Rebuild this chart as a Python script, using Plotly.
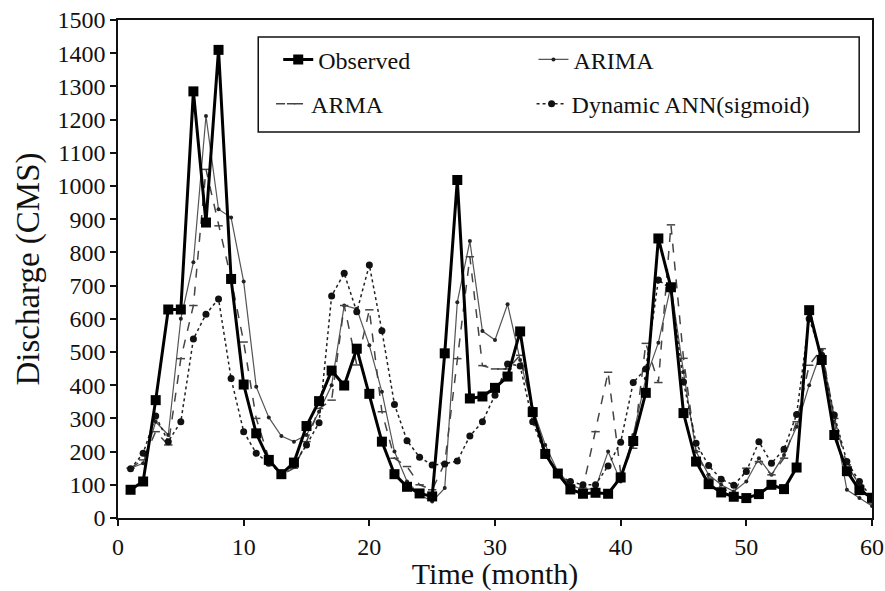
import plotly.graph_objects as go

months = list(range(1, 61))

observed = [85, 110, 355, 628, 628, 1285, 890, 1410, 720, 402,
            255, 175, 132, 167, 277, 352, 444, 399, 510, 374,
            230, 132, 94, 74, 65, 496, 1018, 360, 366, 392,
            426, 562, 319, 193, 134, 86, 73, 76, 73, 122,
            232, 377, 842, 695, 316, 170, 102, 77, 64, 60,
            72, 100, 87, 152, 626, 476, 250, 141, 84, 61]

arima = [150, 165, 290, 250, 600, 770, 1211, 930, 905, 712,
         395, 303, 247, 230, 250, 320, 400, 640, 630, 520,
         380, 200, 110, 70, 50, 90, 650, 834, 563, 536,
         644, 476, 330, 220, 140, 100, 85, 90, 200, 110,
         250, 420, 528, 700, 440, 200, 130, 100, 80, 110,
         180, 130, 190, 275, 400, 506, 290, 85, 60, 36]

arma = [150, 175, 260, 220, 480, 640, 1050, 880, 720, 530,
        300, 180, 130, 150, 230, 330, 355, 640, 461, 627,
        320, 180, 155, 100, 85, 165, 480, 787, 459, 449,
        449, 490, 330, 200, 130, 100, 90, 260, 439, 135,
        210, 526, 408, 883, 481, 200, 120, 90, 75, 150,
        170, 130, 180, 290, 460, 510, 300, 160, 100, 45]

ann = [148, 195, 307, 230, 290, 539, 614, 660, 420, 260,
       195, 165, 135, 160, 220, 287, 669, 737, 621, 762,
       564, 342, 233, 183, 160, 163, 172, 247, 290, 370,
       464, 458, 290, 190, 130, 110, 100, 100, 157, 228,
       408, 449, 717, 690, 410, 225, 158, 117, 99, 140,
       230, 165, 207, 312, 600, 490, 310, 170, 110, 60]

FONT = "Times New Roman, Liberation Serif, serif"

fig = go.Figure()

fig.add_trace(go.Scatter(
    x=months, y=arima, name="ARIMA", mode="lines+markers",
    line=dict(color="#555555", width=1.2),
    marker=dict(symbol="circle", size=4, color="#222222"),
    legend="legend2"))

fig.add_trace(go.Scatter(
    x=months, y=arma, name="ARMA", mode="lines+markers",
    line=dict(color="#444444", width=1.5, dash="dash"),
    marker=dict(symbol="line-ew-open", size=6, color="#444444",
                line=dict(color="#444444", width=1.5)),
    legend="legend3"))

fig.add_trace(go.Scatter(
    x=months, y=ann, name="Dynamic ANN(sigmoid)", mode="lines+markers",
    line=dict(color="#222222", width=1.5, dash="dot"),
    marker=dict(symbol="circle", size=7, color="#111111"),
    legend="legend4"))

fig.add_trace(go.Scatter(
    x=months, y=observed, name="Observed", mode="lines+markers",
    line=dict(color="#000000", width=3),
    marker=dict(symbol="square", size=10, color="#000000"),
    legend="legend"))

# legend frame
fig.add_shape(type="rect", xref="paper", yref="paper",
              x0=0.186, x1=0.983, y0=0.775, y1=0.966,
              line=dict(color="#111111", width=1.5), fillcolor="white", layer="below")

legend_common = dict(
    orientation="h", xanchor="left", yanchor="middle",
    bgcolor="rgba(0,0,0,0)", borderwidth=0,
    font=dict(family=FONT, size=24, color="#111111"),
    itemclick=False, itemdoubleclick=False,
)

fig.update_layout(
    width=885, height=591,
    margin=dict(l=118, r=13, t=20, b=73),
    paper_bgcolor="white", plot_bgcolor="white",
    font=dict(family=FONT, size=24, color="#111111"),
    showlegend=True,
    legend=dict(x=0.2125, y=0.92, **legend_common),
    legend2=dict(x=0.551, y=0.92, **legend_common),
    legend3=dict(x=0.203, y=0.831, **legend_common),
    legend4=dict(x=0.5485, y=0.831, **legend_common),
    xaxis=dict(
        range=[0, 60], dtick=10, tick0=0,
        showgrid=False, zeroline=False,
        showline=True, linecolor="#111111", linewidth=1.5, mirror=True,
        ticks="outside", ticklen=6, tickcolor="#111111", tickwidth=1.5,
        tickfont=dict(family=FONT, size=24, color="#111111"),
        title=dict(text="Time (month)", font=dict(family=FONT, size=30, color="#111111"), standoff=2),
        automargin=False,
    ),
    yaxis=dict(
        range=[0, 1500], dtick=100, tick0=0,
        showgrid=False, zeroline=False,
        showline=True, linecolor="#111111", linewidth=1.5, mirror=True,
        ticks="outside", ticklen=6, tickcolor="#111111", tickwidth=1.5,
        tickfont=dict(family=FONT, size=24, color="#111111"),
        title=dict(text="Discharge (CMS)", font=dict(family=FONT, size=33, color="#111111"), standoff=8),
        automargin=False,
    ),
)

fig.write_html("out.html", config={"displayModeBar": False},
               post_script="document.body.style.margin='0';")
